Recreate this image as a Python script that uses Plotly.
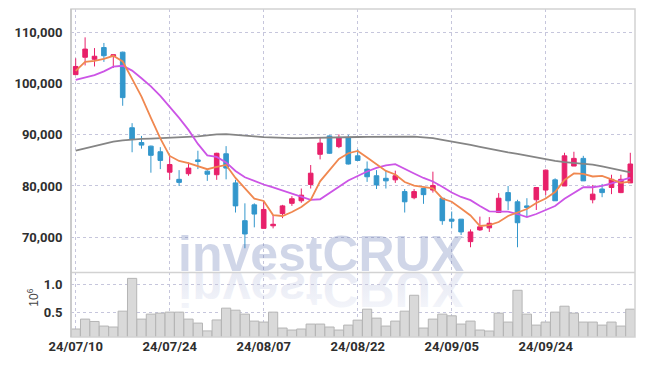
import base64
import plotly.graph_objects as go
from plotly.subplots import make_subplots

dates = ["24/07/10", "24/07/11", "24/07/12", "24/07/15", "24/07/16", "24/07/17", "24/07/18", "24/07/19", "24/07/22", "24/07/23",
         "24/07/24", "24/07/25", "24/07/26", "24/07/29", "24/07/30", "24/07/31", "24/08/01", "24/08/02", "24/08/05", "24/08/06",
         "24/08/07", "24/08/08", "24/08/09", "24/08/12", "24/08/13", "24/08/14", "24/08/16", "24/08/19", "24/08/20", "24/08/21",
         "24/08/22", "24/08/23", "24/08/26", "24/08/27", "24/08/28", "24/08/29", "24/08/30", "24/09/02", "24/09/03", "24/09/04",
         "24/09/05", "24/09/06", "24/09/09", "24/09/10", "24/09/11", "24/09/12", "24/09/13", "24/09/19", "24/09/20", "24/09/23",
         "24/09/24", "24/09/25", "24/09/26", "24/09/27", "24/09/30", "24/10/02", "24/10/04", "24/10/07", "24/10/08", "24/10/10"]

open_ = [101800, 105200, 104800, 107100, 105400, 106200, 91400, 88500, 87800, 86700,
         82700, 81300, 82400, 85100, 82900, 82200, 86300, 80600, 73200, 76300,
         71700, 72200, 74600, 76600, 77100, 80300, 86200, 89800, 87700, 89500,
         85900, 83300, 82000, 81500, 81200, 78900, 77700, 79500, 79200, 77600,
         73500, 73500, 69100, 71400, 71800, 74800, 78700, 76900, 76100, 77300,
         79200, 81200, 80000, 83900, 85400, 77300, 79400, 79700, 78700, 80600]
high = [105000, 109100, 107000, 108000, 105700, 106300, 92300, 89800, 87900, 87600,
        85900, 83100, 84600, 86900, 83100, 86500, 87800, 81200, 76600, 76600,
        76900, 74300, 76300, 78000, 79500, 84100, 89500, 89900, 90100, 90000,
        87200, 84800, 83100, 83000, 83000, 79400, 79400, 79500, 82800, 77600,
        75000, 73500, 71500, 74000, 73900, 78600, 80000, 77300, 77600, 79800,
        83200, 81500, 86500, 86700, 85900, 80200, 80400, 82200, 82200, 86500]
low = [101800, 103600, 103400, 104300, 103100, 95700, 86600, 87300, 82600, 83300,
       81200, 80000, 82000, 83300, 81000, 81200, 81300, 74800, 67800, 71900,
       71700, 71700, 73700, 76100, 76700, 79500, 85200, 86300, 87400, 84200,
       84900, 80800, 79400, 79500, 80600, 74800, 77400, 76500, 78700, 72400,
       71700, 70400, 68000, 71200, 71000, 74700, 75300, 68000, 73900, 75300,
       78200, 77100, 80000, 83900, 81000, 76600, 77800, 78400, 78600, 80600]
close = [103400, 106800, 105400, 105500, 105700, 97300, 89200, 88000, 86000, 85000,
         84200, 80700, 83500, 84800, 82300, 86400, 83500, 76100, 70600, 74500,
         75400, 72500, 76100, 77500, 78200, 82500, 88400, 86400, 89500, 84300,
         85000, 81800, 80200, 81000, 82000, 76900, 78900, 78300, 80100, 73200,
         73100, 71000, 71000, 72000, 72700, 77600, 77100, 72800, 75800, 79700,
         83100, 77100, 85900, 85400, 81000, 78400, 78700, 81300, 81300, 84300]
volume = [211000, 385000, 343000, 263000, 246000, 524000, 1099000, 385000, 472000, 489000,
          507000, 507000, 385000, 315000, 178000, 370000, 577000, 541000, 472000, 350000,
          333000, 507000, 228000, 193000, 211000, 298000, 298000, 246000, 193000, 280000,
          367000, 559000, 402000, 263000, 350000, 524000, 803000, 228000, 385000, 472000,
          443000, 298000, 350000, 193000, 176000, 489000, 333000, 890000, 472000, 280000,
          333000, 507000, 611000, 489000, 333000, 333000, 280000, 333000, 263000, 559000]

ma_short = [102550, 104310, 104510, 104900, 105490, 104370, 100980, 97510, 93330, 89300,
            85880, 84900, 84450, 83920, 83280, 83730, 84120, 81570, 79610, 77510,
            77060, 74300, 74120, 74900, 75880, 77260, 80900, 83140, 85290, 86410,
            86860, 85590, 84310, 82940, 82260, 80780, 80060, 79800, 79550, 77550,
            76920, 75600, 74220, 72160, 72350, 72940, 74120, 74800, 75490, 76670,
            77550, 78820, 81180, 82450, 82350, 81860, 81960, 81280, 80590, 80840]
ma_mid = [100780, 101280, 101710, 102430, 103370, 103530, 102590, 101080, 99510, 97650,
          95590, 93330, 90980, 88240, 85980, 85690, 84610, 82940, 81710, 80980,
          80290, 79710, 79120, 78530, 77840, 77260, 77400, 78630, 80000, 81080,
          81960, 82840, 83530, 84020, 84270, 83430, 82450, 81570, 80880, 79840,
          78730, 77850, 77220, 76080, 75040, 74960, 74960, 74510, 73920, 74510,
          75240, 76080, 77510, 78630, 79750, 79750, 80000, 80490, 81120, 81630]
ma_long = [86920, 87350, 87780, 88240, 88690, 88920, 89140, 89220, 89280, 89350,
           89450, 89530, 89610, 89710, 89900, 90100, 90140, 90040, 89900, 89710,
           89550, 89450, 89410, 89350, 89350, 89410, 89470, 89530, 89550, 89570,
           89590, 89610, 89630, 89650, 89670, 89670, 89670, 89530, 89350, 89020,
           88730, 88370, 88040, 87650, 87260, 86860, 86570, 86280, 85920, 85590,
           85240, 84900, 84670, 84510, 84350, 84180, 83820, 83430, 83040, 82650]

price_ticks = [70000, 80000, 90000, 100000, 110000]
price_tick_text = ["70,000", "80,000", "90,000", "100,000", "110,000"]
vol_ticks = [500000, 1000000]
vol_tick_text = ["0.5", "1.0"]
date_ticks = ["24/07/10", "24/07/24", "24/08/07", "24/08/22", "24/09/05", "24/09/24"]

UP = "#e8206a"
DOWN = "#3397cc"
GRID = "#c6c6dc"
AXIS = "#d2d2d2"
FONT = "Roboto, Liberation Sans, sans-serif"

fig = make_subplots(rows=2, cols=1, shared_xaxes=True, vertical_spacing=0,
                    row_heights=[0.803, 0.197])

fig.add_trace(go.Candlestick(
    x=dates, open=open_, high=high, low=low, close=close,
    increasing=dict(line=dict(color=UP, width=1), fillcolor=UP),
    decreasing=dict(line=dict(color=DOWN, width=1), fillcolor=DOWN),
    whiskerwidth=0, showlegend=False), row=1, col=1)

for vals, col in [(ma_long, "#858585"), (ma_mid, "#cc55e6"), (ma_short, "#f08850")]:
    fig.add_trace(go.Scatter(x=dates, y=vals, mode="lines",
                             line=dict(color=col, width=1.8), showlegend=False,
                             hoverinfo="skip"), row=1, col=1)

fig.add_trace(go.Bar(x=dates, y=volume, marker=dict(color="#d9d9d9",
                     line=dict(color="#b5b5b5", width=1)), showlegend=False),
              row=2, col=1)

tickfont = dict(family=FONT, size=13, color="#2e2e2e", weight="bold")

fig.update_xaxes(type="category", categoryorder="array", categoryarray=dates,
                 range=[-0.5, 59.5], autorange=False,
                 tickmode="array", tickvals=date_ticks, ticktext=date_ticks,
                 showgrid=True, gridcolor=GRID, griddash="dot", gridwidth=1,
                 showline=False, zeroline=False, rangeslider=dict(visible=False),
                 tickfont=tickfont, ticks="", tickangle=0, automargin=False)
fig.update_xaxes(showticklabels=False, row=1, col=1)

fig.update_yaxes(range=[63080, 114650], tickmode="array", tickvals=price_ticks,
                 ticktext=price_tick_text, showgrid=True, gridcolor=GRID,
                 griddash="dot", zeroline=False, tickfont=tickfont,
                 ticks="outside", ticklen=5, tickcolor="rgba(0,0,0,0)",
                 automargin=False, row=1, col=1)
fig.update_yaxes(range=[71000, 1204000], tickmode="array", tickvals=vol_ticks,
                 ticktext=vol_tick_text, showgrid=True, gridcolor=GRID,
                 griddash="dot", zeroline=False, tickfont=tickfont,
                 ticks="outside", ticklen=5, tickcolor="rgba(0,0,0,0)",
                 automargin=False, row=2, col=1)

# plot frame and panel divider
fig.add_shape(type="rect", xref="paper", yref="paper", x0=0, x1=1, y0=0, y1=1,
              line=dict(color=AXIS, width=1.5), layer="above")
fig.add_shape(type="line", xref="paper", yref="paper", x0=0, x1=1, y0=0.197, y1=0.197,
              line=dict(color=AXIS, width=1.5), layer="above")
fig.add_shape(type="line", xref="paper", yref="paper", x0=0, x1=0, y0=0, y1=1,
              line=dict(color="#c4c4c4", width=1.5), layer="above")

# watermark
fig.add_annotation(text="<b>investCRUX</b>", xref="paper", yref="paper",
                   x=0.4435, y=0.197, xanchor="center", yanchor="bottom",
                   yshift=-12, showarrow=False,
                   font=dict(family="Liberation Sans, Arial, sans-serif", size=50,
                             color="rgba(87,109,173,0.28)"))

svg = ('<svg xmlns="http://www.w3.org/2000/svg" width="320" height="60" viewBox="0 0 320 60">'
       '<defs><linearGradient id="g" x1="0" y1="0" x2="0" y2="1">'
       '<stop offset="0" stop-color="#f7f8fc"/><stop offset="0.5" stop-color="#eceef6"/>'
       '<stop offset="1" stop-color="#e6e8f3"/></linearGradient></defs>'
       '<text x="160" y="0" text-anchor="middle" transform="scale(1,-1)" '
       'font-family="Liberation Sans, Arial, sans-serif" font-weight="bold" font-size="50" '
       'fill="url(#g)">investCRUX</text></svg>')
src = "data:image/svg+xml;base64," + base64.b64encode(svg.encode()).decode()
fig.add_layout_image(dict(source=src, xref="paper", yref="paper",
                          x=(321.5 - 71 - 160) / 564.5, y=0.197,
                          sizex=320 / 564.5, sizey=60 / 328,
                          xanchor="left", yanchor="top", sizing="stretch",
                          layer="below"))

fig.add_annotation(text="10<sup>6</sup>", xref="paper", yref="paper",
                   x=(33 - 71) / 564.5, y=0.12, xanchor="center", yanchor="middle",
                   textangle=-90, showarrow=False,
                   font=dict(family="Liberation Sans, sans-serif", size=12, color="#444444"))

fig.update_layout(width=645, height=366, margin=dict(l=71, r=10, t=9, b=29, autoexpand=False),
                  paper_bgcolor="white", plot_bgcolor="rgba(0,0,0,0)",
                  bargap=0.02, boxgap=0.3, showlegend=False)

fig.write_html("out.html", config={"displayModeBar": False},
               post_script="document.body.style.margin='0';document.body.style.padding='0';")
